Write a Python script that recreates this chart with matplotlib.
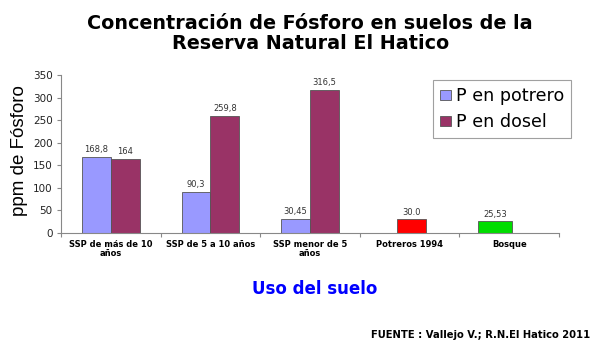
import matplotlib
matplotlib.use("Agg")
import matplotlib.pyplot as plt
from matplotlib.patches import Patch
import numpy as np

categories = ["SSP de más de 10\naños", "SSP de 5 a 10 años", "SSP menor de 5\naños",
              "Potreros 1994", "Bosque"]
potrero = [168.8, 90.3, 30.45]
potrero_labels = ["168,8", "90,3", "30,45"]
dosel = [164, 259.8, 316.5]
dosel_labels = ["164", "259,8", "316,5"]
extra_values = [30.0, 25.53]
extra_labels = ["30.0", "25,53"]
yticks = [0, 50, 100, 150, 200, 250, 300, 350]

plt.rcParams["font.family"] = ["DejaVu Sans"]

fig = plt.figure(figsize=(6.0, 3.49), dpi=100)
ax = fig.add_axes([0.1017, 0.3324, 0.83, 0.4526])

edge = "#555555"
w = 0.29
x = np.arange(len(categories))
b1 = ax.bar(x[:3] - w / 2, potrero, w, color="#9999FF", edgecolor=edge, linewidth=0.6)
b2 = ax.bar(x[:3] + w / 2, dosel, w, color="#993366", edgecolor=edge, linewidth=0.6)
b3 = ax.bar(x[3] + 0.02, extra_values[0], w, color="#FF0000", edgecolor=edge, linewidth=0.6)
b4 = ax.bar(x[4] - 0.14, extra_values[1], 0.34, color="#00DD00", edgecolor=edge, linewidth=0.6)

lab_kw = dict(padding=2, fontsize=6, color="#333333")
ax.bar_label(b1, labels=potrero_labels, **lab_kw)
ax.bar_label(b2, labels=dosel_labels, **lab_kw)
ax.bar_label(b3, labels=[extra_labels[0]], **lab_kw)
ax.bar_label(b4, labels=[extra_labels[1]], **lab_kw)

ax.set_xlim(-0.5, len(categories) - 0.5)
ax.set_ylim(0, 350)
ax.set_yticks(yticks)
ax.tick_params(axis="y", labelsize=7.5, colors="#888888", labelcolor="#222222",
               length=3, width=0.8, pad=3)

# category labels centred, tick marks between categories
ax.set_xticks(x)
ax.set_xticklabels(categories, fontsize=6, fontweight="bold", linespacing=1.0)
ax.tick_params(axis="x", which="major", length=0, pad=5)
ax.set_xticks(np.arange(len(categories) + 1) - 0.5, minor=True)
ax.tick_params(axis="x", which="minor", length=3, width=0.8, colors="#888888")

for s in ["top", "right"]:
    ax.spines[s].set_visible(False)
for s in ["left", "bottom"]:
    ax.spines[s].set_color("#888888")
    ax.spines[s].set_linewidth(0.8)

fig.text(0.517, 0.905, "Concentración de Fósforo en suelos de la\nReserva Natural El Hatico",
         ha="center", va="center", fontsize=13.8, fontweight="bold", linespacing=1.05)

fig.text(0.033, 0.57, "ppm de Fósforo", rotation=90, ha="center", va="center",
         fontsize=13.5, family=["Liberation Sans", "DejaVu Sans"])

fig.text(0.525, 0.172, "Uso del suelo", ha="center", va="center",
         fontsize=12, fontweight="bold", color="#0000FF")

fig.text(0.983, 0.04, "FUENTE : Vallejo V.; R.N.El Hatico 2011", ha="right", va="center",
         fontsize=7.2, fontweight="bold")

handles = [Patch(facecolor="#9999FF", edgecolor=edge, linewidth=0.6),
           Patch(facecolor="#993366", edgecolor=edge, linewidth=0.6)]
leg = fig.legend(handles, ["P en potrero", "P en dosel"], loc="upper left",
                 bbox_to_anchor=(433 / 600, 1 - 80 / 349), fontsize=12.6,
                 frameon=True, fancybox=False, edgecolor="#888888",
                 handlelength=0.6, handleheight=0.5, handletextpad=0.3,
                 labelspacing=0.45, borderpad=0.4, borderaxespad=0)
leg.get_frame().set_linewidth(0.8)

fig.savefig("out.png", dpi=100)
